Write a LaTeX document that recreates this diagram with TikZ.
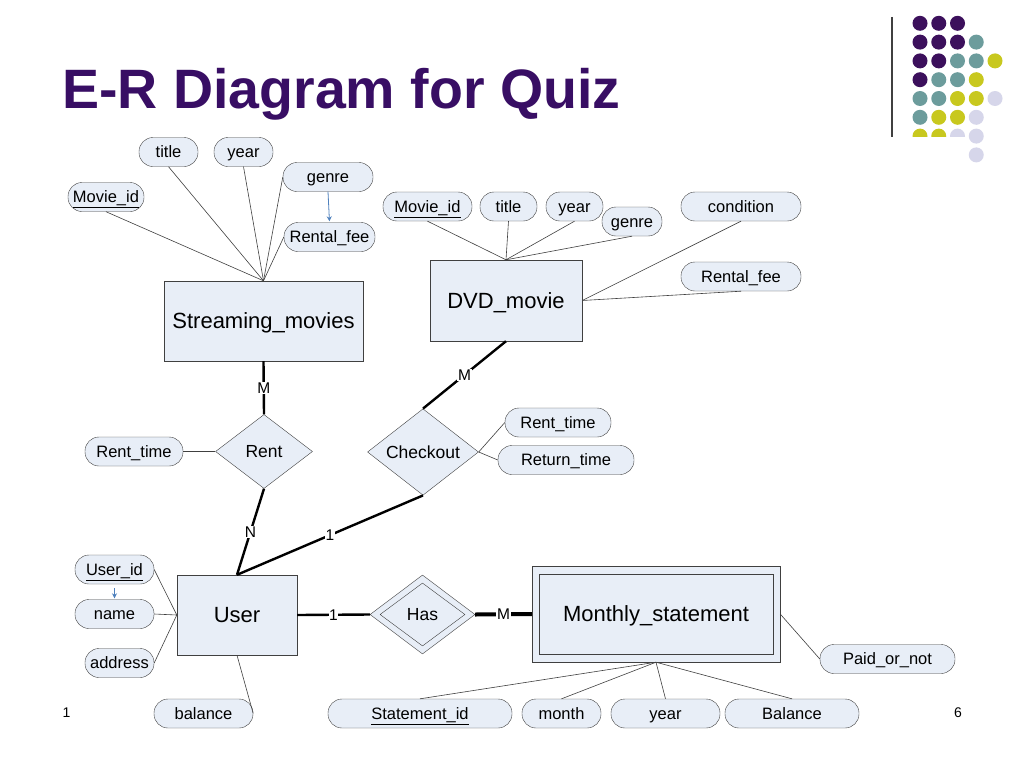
\documentclass[tikz,border=0pt]{standalone}
\usepackage{fontspec}
\setmainfont{Liberation Sans}
\usetikzlibrary{shapes.geometric,arrows.meta}

\definecolor{titlepurple}{RGB}{56,14,100}
\definecolor{boxfill}{RGB}{232,238,247}
\definecolor{edge}{RGB}{64,64,64}
\definecolor{arrowblue}{RGB}{79,129,189}
\definecolor{dotp}{RGB}{60,16,92}
\definecolor{dott}{RGB}{108,156,156}
\definecolor{doty}{RGB}{200,200,30}
\definecolor{dotl}{RGB}{214,214,234}

\tikzset{
  attr/.style={draw=edge, fill=boxfill, rounded corners=14pt, minimum height=29pt,
    inner sep=0pt, text height=11.8pt, text depth=0pt, font=\fontsize{16.5}{18}\selectfont},
  entity/.style={draw=edge, fill=boxfill, inner sep=0pt, text height=15.8pt, text depth=0pt,
    font=\fontsize{22}{24}\selectfont},
  relship/.style={diamond, draw=edge, fill=boxfill, inner sep=0pt, text height=12.5pt,
    text depth=0pt, font=\fontsize{17.5}{19}\selectfont},
  attrline/.style={draw=edge, line width=0.6pt},
  relline/.style={line width=2.4pt},
  card/.style={fill=white, inner sep=0.6pt, text height=11.1pt, text depth=0pt,
    font=\fontsize{15.5}{17}\selectfont},
  fd/.style={arrowblue, line width=0.8pt, -{Stealth[length=5pt,width=5pt]}},
}

\begin{document}
\begin{tikzpicture}[x=1pt, y=-1pt]
  \fill[white] (0,0) rectangle (1024,768);
  \useasboundingbox (0,0) rectangle (1024,768);

  % slide decoration
  \node[anchor=base west, inner sep=0pt, text=titlepurple,
    font=\fontsize{55.5}{60}\selectfont\bfseries] (title) at (62,108) {E-R Diagram for Quiz};
  \draw[edge, line width=1.4pt] (892,17) -- (892,137);
  \foreach \c/\r/\k in {0/0/dotp,1/0/dotp,2/0/dotp, 0/1/dotp,1/1/dotp,2/1/dotp,3/1/dott,
      0/2/dotp,1/2/dotp,2/2/dott,3/2/dott,4/2/doty, 0/3/dotp,1/3/dott,2/3/dott,3/3/doty,
      0/4/dott,1/4/dott,2/4/doty,3/4/doty,4/4/dotl, 0/5/dott,1/5/doty,2/5/doty,3/5/dotl,
      3/6/dotl,3/7/dotl}
    \fill[\k] (920+18.75*\c, 23.3+18.8*\r) circle (7.5);
  \begin{scope}
    \clip (900,120) rectangle (967,136.5);
    \foreach \c/\k in {0/doty,1/doty,2/dotl}
      \fill[\k] (920+18.75*\c, 136.1) circle (7.5);
  \end{scope}
  \node[font=\fontsize{14}{16}\selectfont] (pgl) at (66.5,713) {1};
  \node[font=\fontsize{14}{16}\selectfont] (pgr) at (958,713) {6};

  % streaming movies
  \node[entity, minimum width=199pt, minimum height=80pt] (sm) at (263.5,321) {Streaming\_movies};
  \node[attr, minimum width=76pt] (smid) at (106,197) {\underline{Movie\_id}};
  \node[attr, minimum width=59pt] (stitle) at (168.5,152) {title};
  \node[attr, minimum width=59pt] (syear) at (243.5,152) {year};
  \node[attr, minimum width=90pt] (sgenre) at (328,177) {genre};
  \node[attr, minimum width=91pt] (sfee) at (329.5,237) {Rental\_fee};

  % dvd movie
  \node[entity, minimum width=152pt, minimum height=81pt] (dvd) at (506,300.5) {DVD\_movie};
  \node[attr, minimum width=89pt] (did) at (427.5,206.5) {\underline{Movie\_id}};
  \node[attr, minimum width=57pt] (dtitle) at (508.5,206.5) {title};
  \node[attr, minimum width=57pt] (dyear) at (574.5,206.5) {year};
  \node[attr, minimum width=60pt] (dgenre) at (632,221.5) {genre};
  \node[attr, minimum width=120pt] (dcond) at (741,206.5) {condition};
  \node[attr, minimum width=120pt] (dfee) at (741,276.5) {Rental\_fee};

  % rent and checkout
  \node[relship, minimum width=97pt, minimum height=74pt] (rent) at (264,451.5) {Rent};
  \node[attr, minimum width=98pt] (rtime) at (134,451.5) {Rent\_time};
  \node[relship, minimum width=111pt, minimum height=80pt] (chk) at (423,452) {Checkout};
  \node[attr, minimum width=106pt] (ctime) at (558,422.5) {Rent\_time};
  \node[attr, minimum width=136pt] (cret) at (566,460) {Return\_time};

  % user
  \node[entity, minimum width=120pt, minimum height=80pt] (user) at (237,615) {User};
  \node[attr, minimum width=79pt] (uid) at (114.5,569.5) {\underline{User\_id}};
  \node[attr, minimum width=79pt] (uname) at (114.5,614) {name};
  \node[attr, minimum width=69pt] (uaddr) at (119.5,663) {address};
  \node[attr, minimum width=99pt] (ubal) at (203.5,713.5) {balance};

  % has and monthly statement
  \node[relship, minimum width=105pt, minimum height=79pt] (has) at (422.5,614.5) {};
  \node[relship, minimum width=85pt, minimum height=63pt] (hasin) at (has) {Has};
  \node[entity, minimum width=248pt, minimum height=96pt] (ms) at (656,614) {};
  \node[entity, minimum width=234pt, minimum height=80pt] (msin) at (ms) {Monthly\_statement};
  \node[attr, minimum width=184pt] (stid) at (420,713.5) {\underline{Statement\_id}};
  \node[attr, minimum width=79pt] (month) at (561.5,713.5) {month};
  \node[attr, minimum width=109pt] (myear) at (665.5,713.5) {year};
  \node[attr, minimum width=134pt] (mbal) at (792,713.5) {Balance};
  \node[attr, minimum width=135pt] (paid) at (887.5,659) {Paid\_or\_not};

  % attribute links
  \foreach \att in {smid,stitle,syear} \draw[attrline] (\att.south) -- (sm.north);
  \foreach \att in {sgenre,sfee} \draw[attrline] (\att.west) -- (sm.north);
  \foreach \att in {did,dtitle,dyear,dgenre} \draw[attrline] (\att.south) -- (dvd.north);
  \foreach \att in {dcond,dfee} \draw[attrline] (\att.south) -- (dvd.east);
  \draw[attrline] (rtime.east) -- (rent.west);
  \draw[attrline] (chk.east) -- (ctime.west);
  \draw[attrline] (chk.east) -- (cret.west);
  \foreach \att in {uid,uname,uaddr} \draw[attrline] (\att.east) -- (user.west);
  \draw[attrline] (user.south) -- (ubal.east);
  \foreach \att in {stid,month,myear,mbal} \draw[attrline] (ms.south) -- (\att.north);
  \draw[attrline] (ms.east) -- (paid.west);
  \draw[fd, shorten >=1pt] (sgenre.south) -- (sfee.north);
  \draw[fd, shorten <=4pt, shorten >=1pt] (uid.south) -- (uname.north);

  % relationship links
  \draw[relline] (sm.south) -- node[card] {M} (rent.north);
  \draw[relline] (dvd.south) -- node[card] {M} (chk.north);
  \draw[relline] (rent.south) -- node[card] {N} (user.north);
  \draw[relline] (chk.south) -- node[card] {1} (user.north);
  \draw[relline] (user.east) -- node[card] {1} (has.west);
  \draw[line width=4pt] (has.east) -- node[card] {M} (ms.west);
\end{tikzpicture}
\end{document}
